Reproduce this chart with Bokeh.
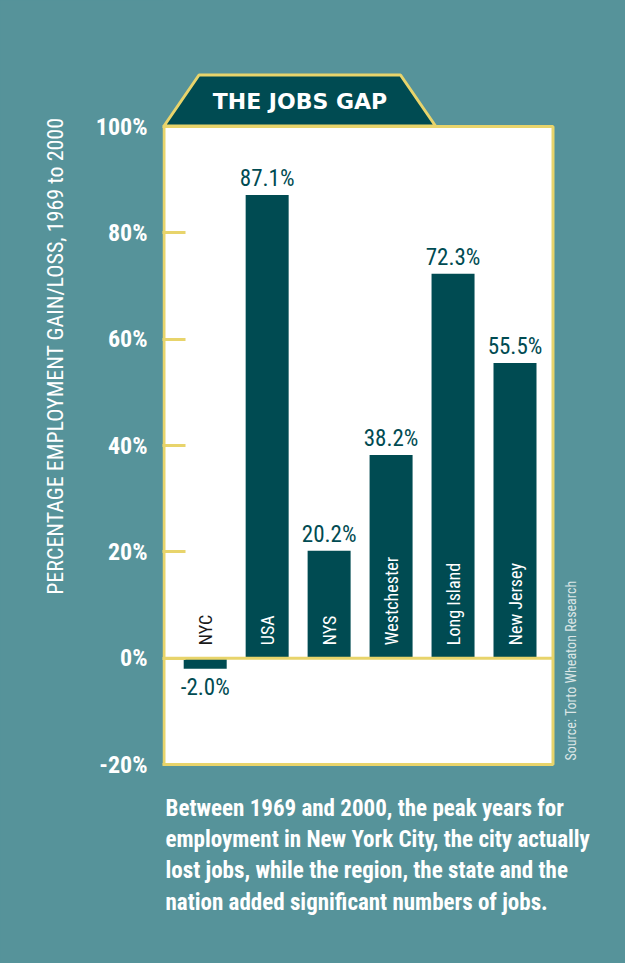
import math
from bokeh.plotting import figure
from bokeh.models import Range1d, FixedTicker, Label, ColumnDataSource
from bokeh.core.properties import value
from bokeh.embed import file_html
from bokeh.resources import INLINE

# ---------------- data ----------------
categories = ["NYC", "USA", "NYS", "Westchester", "Long Island", "New Jersey"]
changes = [-2.0, 87.1, 20.2, 38.2, 72.3, 55.5]
value_labels = ["-2.0%", "87.1%", "20.2%", "38.2%", "72.3%", "55.5%"]
y_ticks = [-20, 0, 20, 40, 60, 80, 100]
y_tick_labels = ["-20%", "0%", "20%", "40%", "60%", "80%", "100%"]
title_text = "THE JOBS GAP"
y_title = "PERCENTAGE EMPLOYMENT GAIN/LOSS, 1969 to 2000"
source_text = "Source: Torto Wheaton Research"
caption_lines = [
    "Between 1969 and 2000, the peak years for",
    "employment in New York City, the city actually",
    "lost jobs, while the region, the state and the",
    "nation added significant numbers of jobs.",
]

# ---------------- style ----------------
TEAL = "#56939A"
DARK = "#004B52"
YELLOW = "#E8D46B"
COND = "Roboto Condensed"

W, H = 625, 963
BL = 162
PX_X = 61.96          # pixels per category step
PX_Y = 5.3167         # pixels per percentage point
X0 = -(204.7 - BL) / PX_X
X1 = X0 + (W - BL) / PX_X
Y1 = 100 + 126 / PX_Y
Y0 = Y1 - H / PX_Y


def dx(page_x):
    return X0 + (page_x - 8 - BL) / PX_X


def dy(page_y):
    return Y1 - (page_y - 8) / PX_Y


p = figure(width=W, height=H, x_range=Range1d(X0, X1), y_range=Range1d(Y0, Y1),
           output_backend="svg", toolbar_location=None, x_axis_location=None,
           title=y_title, title_location="left",
           min_border_left=BL, min_border_right=0, min_border_top=0, min_border_bottom=0)
p.styles = {"background-color": TEAL}
p.background_fill_color = TEAL
p.border_fill_color = TEAL
p.outline_line_color = None
p.grid.grid_line_color = None

p.title.align = "right"
p.title.offset = 117
p.title.text_font = COND
p.title.text_font_style = "normal"
p.title.text_font_size = "22px"
p.title.text_color = "white"
p.title.standoff = 50

ax = p.yaxis[0]
ax.ticker = FixedTicker(ticks=y_ticks)
ax.major_label_overrides = {t: l for t, l in zip(y_ticks, y_tick_labels)}
ax.axis_line_color = None
ax.major_tick_in = 23
ax.major_tick_out = 0
ax.major_tick_line_color = YELLOW
ax.major_tick_line_width = 3
ax.minor_tick_line_color = None
ax.major_label_text_color = "white"
ax.major_label_text_font = COND
ax.major_label_text_font_style = "bold"
ax.major_label_text_font_size = "24px"
ax.major_label_standoff = 15

# title tab
p.patch(x=[dx(171.5), dx(206.5), dx(408), dx(443)],
        y=[dy(133.5), dy(82.5), dy(82.5), dy(133.5)],
        fill_color=DARK, line_color=YELLOW, line_width=3)

# white plot box with yellow border
p.quad(left=dx(171.5), right=dx(560.5), bottom=y_ticks[0], top=y_ticks[-1],
       fill_color="white", line_color=YELLOW, line_width=3)

src = ColumnDataSource(dict(
    x=list(range(len(categories))),
    top=changes,
    cat=categories,
    lab=value_labels,
    yoff=[-16.5 if v >= 0 else 19 for v in changes],
    catcol=["#1a1a1a" if v < 0 else "white" for v in changes],
))

p.vbar(x="x", top="top", bottom=0, width=0.694, fill_color=DARK, line_color=None, source=src)

p.segment(x0=dx(171.5), x1=dx(560.5), y0=0, y1=0, line_color=YELLOW, line_width=3)

p.text(x="x", y="top", text="lab", y_offset="yoff", text_align="center",
       text_baseline="middle", text_font=value(COND), text_font_size="23px",
       text_color=DARK, source=src)

p.text(x="x", y=0, text="cat", angle=math.pi / 2, y_offset=-13, text_align="left",
       text_baseline="middle", text_font=value(COND), text_font_size="18px",
       text_color="catcol", source=src)

p.add_layout(Label(x=dx(307.5), y=dy(109), text=title_text, text_align="center",
                   text_baseline="middle", text_font="DejaVu Sans", text_font_style="bold",
                   text_font_size="22px", text_color="white"))

p.add_layout(Label(x=dx(578), y=dy(768), text=source_text, angle=math.pi / 2,
                   text_align="left", text_baseline="middle", text_font=COND,
                   text_font_size="14px", text_color="#DCE6E6"))

for i, line in enumerate(caption_lines):
    p.add_layout(Label(x=dx(173), y=dy(816 + 31.2 * i), text=line, text_align="left",
                       text_baseline="middle", text_font=COND,
                       text_font_style="bold", text_font_size="23px", text_color="white"))

open("out.html", "w").write(file_html(p, INLINE))
